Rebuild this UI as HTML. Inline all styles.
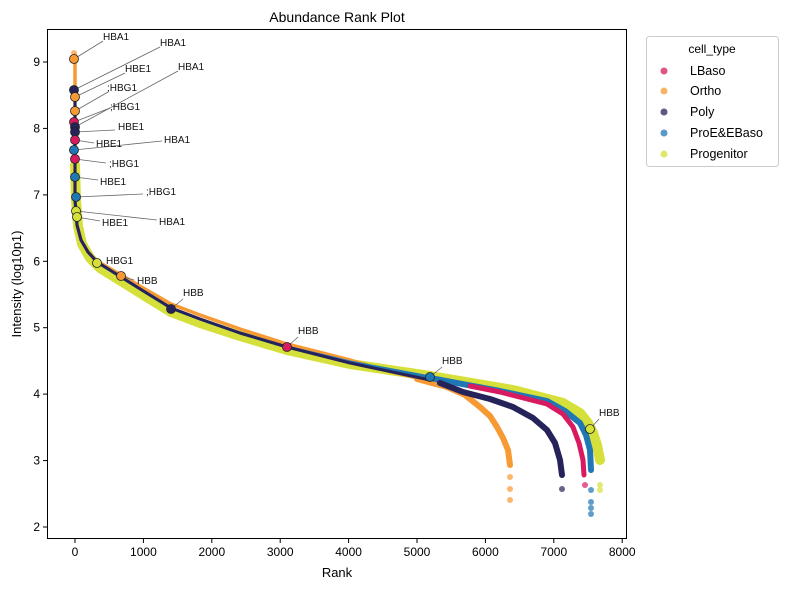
<!DOCTYPE html>
<html><head><meta charset="utf-8"><style>body{margin:0;background:#fff}svg{font-family:"Liberation Sans","DejaVu Sans",sans-serif}</style></head><body>
<svg width="789" height="590" viewBox="0 0 789 590" xmlns="http://www.w3.org/2000/svg">
<rect width="789" height="590" fill="#fff"/>
<g fill="none" stroke-linecap="round" stroke-linejoin="round">
<polyline stroke="#d5e03a" stroke-width="10" points="75,165 76,200 78,226 82,244 90,258 100,268 121,281 145,296 171,312 200,323 240,336 287,350 350,364 430,376 513,390 563,403 580,413 588,423 593,433 597,445 600,460"/>
<polyline stroke="#f79a34" stroke-width="3.5" points="75,55 75,200 77,225 81,240 88,252 97,261 121,275 145,289 171,304 200,315 240,329 287,344 350,360 380,369 417,378"/>
<polyline stroke="#f79a34" stroke-width="6" points="417,379 447,387 465,395 480,407 490,416 497,427 503,438 508,450 510,465"/>
<polyline stroke="#1f77b4" stroke-width="3" points="75,150 75,200 77,225 81,240 88,252 97,262 121,277 145,292 171,308 200,319 240,333 287,347 350,362 430,377"/>
<polyline stroke="#1f77b4" stroke-width="6" points="430,378 500,391 547,401 565,411 580,423 586,435 590,450 591,470"/>
<polyline stroke="#d81b60" stroke-width="5" points="470,386 500,392 547,404 563,414 573,427 579,443 583,460 584,475"/>
<polyline stroke="#252359" stroke-width="3" points="75,90 75,200 77,225 81,240 88,252 97,262 121,277 145,292 171,308 200,319 240,333 287,347 350,363 430,380"/>
<polyline stroke="#252359" stroke-width="6" points="440,383 463,392 490,399 513,407 533,418 547,430 555,443 560,460 562,475"/>
</g>
<g opacity="0.7">
<circle cx="510" cy="477" r="3" fill="#f79a34"/><circle cx="510" cy="489" r="3" fill="#f79a34"/><circle cx="510" cy="500" r="3" fill="#f79a34"/>
<circle cx="562" cy="489" r="3" fill="#252359"/><circle cx="585" cy="485" r="3" fill="#d81b60"/>
<circle cx="591" cy="490" r="3" fill="#1f77b4"/><circle cx="591" cy="502" r="3" fill="#1f77b4"/><circle cx="591" cy="508" r="3" fill="#1f77b4"/><circle cx="591" cy="514" r="3" fill="#1f77b4"/>
<circle cx="600" cy="485" r="3" fill="#d5e03a"/><circle cx="600" cy="490" r="3" fill="#d5e03a"/><circle cx="74" cy="53" r="3" fill="#f79a34"/>
</g>
<g stroke="#666" stroke-width="0.8">
<line x1="74" y1="59" x2="103" y2="41"/><line x1="74" y1="90" x2="160" y2="47"/><line x1="75" y1="97" x2="125" y2="73"/><line x1="75" y1="111" x2="108" y2="92"/>
<line x1="74" y1="122" x2="110" y2="108"/><line x1="75" y1="127" x2="178" y2="71"/><line x1="75" y1="132" x2="115" y2="130"/><line x1="75" y1="140" x2="94" y2="143"/>
<line x1="74" y1="150" x2="162" y2="141"/><line x1="75" y1="159" x2="106" y2="163"/><line x1="75" y1="177" x2="98" y2="180"/><line x1="76" y1="197" x2="143" y2="194"/>
<line x1="76" y1="211" x2="157" y2="220"/><line x1="77" y1="217" x2="100" y2="221"/><line x1="171" y1="309" x2="183" y2="299"/><line x1="287" y1="347" x2="298" y2="337"/>
<line x1="430" y1="377" x2="442" y2="367"/><line x1="590" y1="429" x2="599" y2="419"/><line x1="121" y1="276" x2="134" y2="280"/>
</g>
<g stroke="#222" stroke-width="0.8">
<circle cx="74" cy="59" r="4.5" fill="#f79a34"/><circle cx="74" cy="90" r="4.5" fill="#252359"/><circle cx="75" cy="97" r="4.5" fill="#f79a34"/><circle cx="75" cy="111" r="4.5" fill="#f79a34"/>
<circle cx="74" cy="122" r="4.5" fill="#d81b60"/><circle cx="75" cy="127" r="4.5" fill="#252359"/><circle cx="75" cy="132" r="4.5" fill="#252359"/><circle cx="75" cy="140" r="4.5" fill="#d81b60"/>
<circle cx="74" cy="150" r="4.5" fill="#1f77b4"/><circle cx="75" cy="159" r="4.5" fill="#d81b60"/><circle cx="75" cy="177" r="4.5" fill="#1f77b4"/><circle cx="76" cy="197" r="4.5" fill="#1f77b4"/>
<circle cx="76" cy="211" r="4.5" fill="#d5e03a"/><circle cx="77" cy="217" r="4.5" fill="#d5e03a"/><circle cx="97" cy="263" r="4.5" fill="#d5e03a"/><circle cx="121" cy="276" r="4.5" fill="#f79a34"/>
<circle cx="171" cy="309" r="4.5" fill="#252359"/><circle cx="287" cy="347" r="4.5" fill="#d81b60"/><circle cx="430" cy="377" r="4.5" fill="#1f77b4"/><circle cx="590" cy="429" r="4.5" fill="#d5e03a"/>
</g>
<g font-size="10" fill="#111">
<text x="103" y="40">HBA1</text><text x="160" y="46">HBA1</text><text x="125" y="72">HBE1</text><text x="107" y="91">;HBG1</text>
<text x="110" y="110">;HBG1</text><text x="178" y="70">HBA1</text><text x="118" y="130">HBE1</text><text x="96" y="147">HBE1</text>
<text x="164" y="143">HBA1</text><text x="109" y="167">;HBG1</text><text x="100" y="185">HBE1</text><text x="146" y="195">;HBG1</text>
<text x="159" y="225">HBA1</text><text x="102" y="226">HBE1</text><text x="106" y="264">HBG1</text><text x="137" y="284">HBB</text>
<text x="183" y="296">HBB</text><text x="298" y="334">HBB</text><text x="442" y="364">HBB</text><text x="599" y="416">HBB</text>
</g>
<rect x="47.5" y="29.5" width="579" height="509" fill="none" stroke="#000" stroke-width="1"/>
<g stroke="#000" stroke-width="1">
<line x1="75" y1="539" x2="75" y2="543"/><line x1="143.4" y1="539" x2="143.4" y2="543"/><line x1="211.8" y1="539" x2="211.8" y2="543"/><line x1="280.2" y1="539" x2="280.2" y2="543"/><line x1="348.6" y1="539" x2="348.6" y2="543"/><line x1="417" y1="539" x2="417" y2="543"/><line x1="485.4" y1="539" x2="485.4" y2="543"/><line x1="553.8" y1="539" x2="553.8" y2="543"/><line x1="622.2" y1="539" x2="622.2" y2="543"/>
<line x1="43" y1="62" x2="47" y2="62"/><line x1="43" y1="128.4" x2="47" y2="128.4"/><line x1="43" y1="194.9" x2="47" y2="194.9"/><line x1="43" y1="261.3" x2="47" y2="261.3"/><line x1="43" y1="327.7" x2="47" y2="327.7"/><line x1="43" y1="394.1" x2="47" y2="394.1"/><line x1="43" y1="460.6" x2="47" y2="460.6"/><line x1="43" y1="527" x2="47" y2="527"/>
</g>
<g font-size="12" fill="#000" text-anchor="middle">
<text x="75" y="556">0</text><text x="143.4" y="556">1000</text><text x="211.8" y="556">2000</text><text x="280.2" y="556">3000</text><text x="348.6" y="556">4000</text><text x="417" y="556">5000</text><text x="485.4" y="556">6000</text><text x="553.8" y="556">7000</text><text x="622.2" y="556">8000</text>
</g>
<g font-size="12" fill="#000" text-anchor="end">
<text x="40" y="66">9</text><text x="40" y="132.4">8</text><text x="40" y="198.9">7</text><text x="40" y="265.3">6</text><text x="40" y="331.7">5</text><text x="40" y="398.1">4</text><text x="40" y="464.6">3</text><text x="40" y="531">2</text>
</g>
<text x="337" y="577" font-size="13" text-anchor="middle">Rank</text>
<text x="21" y="284" font-size="13" text-anchor="middle" transform="rotate(-90 21 284)">Intensity (log10p1)</text>
<text x="337" y="22" font-size="14" text-anchor="middle">Abundance Rank Plot</text>
<rect x="646.5" y="36.5" width="132" height="130" rx="3" fill="#fff" stroke="#ccc"/>
<text x="712" y="53" font-size="12" text-anchor="middle">cell_type</text>
<g opacity="0.75"><circle cx="664" cy="71" r="3.5" fill="#d81b60"/><circle cx="664" cy="91" r="3.5" fill="#f79a34"/><circle cx="664" cy="112" r="3.5" fill="#252359"/><circle cx="664" cy="133" r="3.5" fill="#1f77b4"/><circle cx="664" cy="154" r="3.5" fill="#d5e03a"/></g>
<g font-size="12.5"><text x="690" y="75">LBaso</text><text x="690" y="95">Ortho</text><text x="690" y="116">Poly</text><text x="690" y="137">ProE&amp;EBaso</text><text x="690" y="158">Progenitor</text></g>
</svg>
</body></html>
